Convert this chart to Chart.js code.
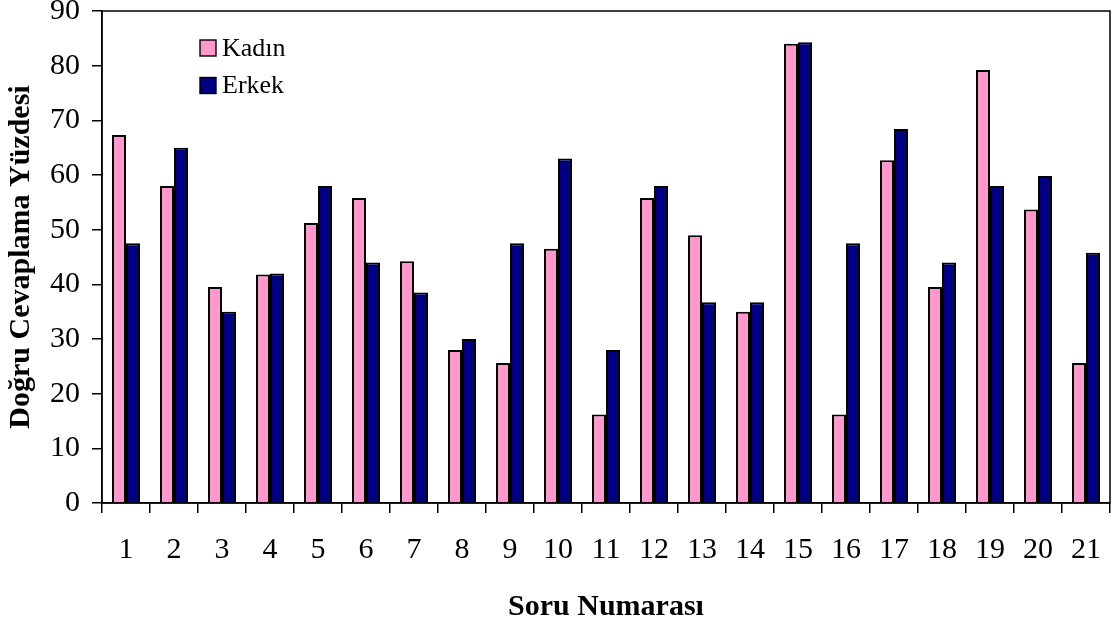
<!DOCTYPE html>
<html>
<head>
<meta charset="utf-8">
<script src="https://cdn.jsdelivr.net/npm/chart.js@4/dist/chart.umd.min.js"></script>
<style>
  html, body { margin: 0; padding: 0; background: #fff; }
  #wrap { width: 1112px; height: 628px; }
</style>
</head>
<body>
<div id="wrap"><canvas id="chart" width="1112" height="628"></canvas></div>
<script>
// Veriler
const categories = ['1','2','3','4','5','6','7','8','9','10','11','12','13','14','15','16','17','18','19','20','21'];
const kadin = [67.3, 58, 39.5, 41.8, 51.2, 55.8, 44.2, 28, 25.6, 46.5, 16.2, 55.8, 49, 35, 84, 16.2, 62.7, 39.5, 79.2, 53.7, 25.6];
const erkek = [47.5, 65, 35, 42, 58, 44, 38.5, 30, 47.5, 63, 28, 58, 36.7, 36.7, 84.3, 47.5, 68.4, 44, 58, 59.8, 45.8];
const seriesNames = ['Kadın', 'Erkek'];
const colors = ['#FF99CC', '#000080'];

// Plot alanının çerçevesi
const frame = {
    id: 'frame',
    afterDatasetsDraw(chart) {
        const a = chart.chartArea, ctx = chart.ctx;
        ctx.save();
        ctx.strokeStyle = '#000';
        ctx.lineWidth = 1.5;
        ctx.strokeRect(a.left, a.top, a.right - a.left, a.bottom - a.top);
        ctx.restore();
    }
};

// Grafik içi gösterge (legend)
const innerLegend = {
    id: 'innerLegend',
    afterDraw(chart) {
        const ctx = chart.ctx;
        ctx.save();
        ctx.font = '26px "Liberation Serif"';
        ctx.textBaseline = 'middle';
        chart.data.datasets.forEach((ds, i) => {
            const y = 48 + i * 37.5;
            ctx.fillStyle = ds.backgroundColor;
            ctx.strokeStyle = '#000';
            ctx.lineWidth = 1.4;
            ctx.fillRect(200, y - 8, 16, 16);
            ctx.strokeRect(200, y - 8, 16, 16);
            ctx.fillStyle = '#000';
            ctx.fillText(ds.label, 222, y + 1);
        });
        ctx.restore();
    }
};

new Chart(document.getElementById('chart').getContext('2d'), {
    type: 'bar',
    data: {
        labels: categories,
        datasets: [
            { label: seriesNames[0], data: kadin, backgroundColor: colors[0], borderColor: '#000', borderWidth: 2 },
            { label: seriesNames[1], data: erkek, backgroundColor: colors[1], borderColor: '#000', borderWidth: 2 }
        ]
    },
    options: {
        responsive: false,
        animation: false,
        layout: { padding: { top: 11, right: 2, left: 0, bottom: 0 } },
        datasets: { bar: { categoryPercentage: 0.583, barPercentage: 1 } },
        plugins: {
            legend: { display: false },
            tooltip: { enabled: false }
        },
        scales: {
            x: {
                afterFit(scale) { scale.height = 125; scale.paddingLeft = 0; scale.paddingRight = 0; },
                grid: { offset: true, drawOnChartArea: false, tickLength: 10, color: '#000', lineWidth: 1.5 },
                border: { color: '#000', width: 1.5 },
                ticks: { color: '#000', font: { family: 'Liberation Serif', size: 30 }, padding: 19, maxRotation: 0 },
                title: { display: true, text: 'Soru Numarası', color: '#000', font: { family: 'Liberation Serif', size: 30, weight: 'bold' }, padding: { top: 4, bottom: 3 } }
            },
            y: {
                min: 0, max: 90,
                afterFit(scale) { scale.width = 102; scale.paddingTop = 0; scale.paddingBottom = 0; },
                grid: { drawOnChartArea: false, tickLength: 10, color: '#000', lineWidth: 1.5 },
                border: { color: '#000', width: 1.5 },
                ticks: { stepSize: 10, color: '#000', font: { family: 'Liberation Serif', size: 30 }, padding: 12 },
                title: { display: true, text: 'Doğru Cevaplama Yüzdesi', color: '#000', font: { family: 'Liberation Serif', size: 30, weight: 'bold' }, padding: { top: 3, bottom: 4 } }
            }
        }
    },
    plugins: [frame, innerLegend]
});
</script>
</body>
</html>
